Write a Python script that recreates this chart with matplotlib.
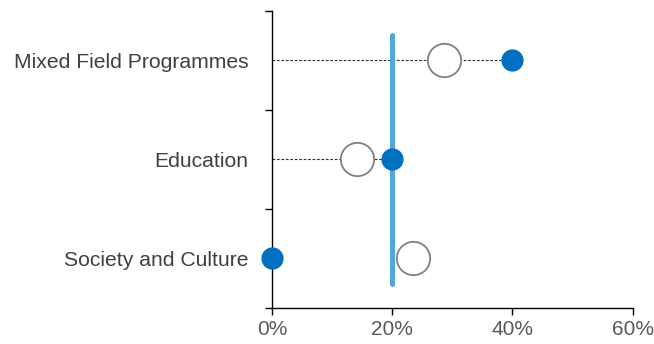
import numpy as np
import matplotlib.pyplot as plt
from matplotlib.ticker import FixedLocator, PercentFormatter

plt.rcParams["font.family"] = ["Liberation Sans", "DejaVu Sans"]

# data
categorias = ["Mixed Field Programmes", "Education", "Society and Culture"]
valor_atual = [40.0, 20.0, 0.0]        # blue dots (%)
valor_ref = [28.6, 14.1, 23.5]         # open circles (%)
media = 20.0                           # vertical line (%)

cor_ponto = "#0070C0"
cor_linha = "#4EA8DE"
cor_circulo = "#808080"

fig = plt.figure(figsize=(6.54, 3.44), dpi=100)
ax = fig.add_axes([0.4159, 0.1055, 0.5515, 0.8625])

y = np.arange(len(categorias))[::-1]

# dashed guide lines from axis to the dot
for yi, v in zip(y, valor_atual):
    if v > 0:
        ax.plot([0, v], [yi, yi], color="#333333", linestyle=(0, (2.5, 1.5)),
                linewidth=0.8, zorder=1)

# vertical reference line
ax.plot([media, media], [y.min() - 0.26, y.max() + 0.26], color=cor_linha,
        linewidth=3.6, solid_capstyle="round", zorder=2)

# open circles
ax.plot(valor_ref, y, linestyle="none", marker="o", markersize=24,
        markerfacecolor="white", markeredgecolor=cor_circulo,
        markeredgewidth=1.3, zorder=3)

# filled dots
ax.plot(valor_atual, y, linestyle="none", marker="o", markersize=15,
        markerfacecolor=cor_ponto, markeredgecolor=cor_ponto, zorder=4,
        clip_on=False)

ax.set_xlim(0, 60)
ax.set_ylim(-0.5, 2.5)
ax.set_xticks([0, 20, 40, 60])
ax.xaxis.set_major_formatter(PercentFormatter(decimals=0))
ax.set_yticks(y)
ax.set_yticklabels(categorias)
ax.yaxis.set_minor_locator(FixedLocator([-0.5, 0.5, 1.5, 2.5]))

ax.tick_params(axis="y", which="major", length=0, pad=17, labelsize=15.2,
               labelcolor="#404040")
ax.tick_params(axis="y", which="minor", length=5, width=1)
ax.tick_params(axis="x", length=5, width=1, labelsize=15,
               labelcolor="#595959", pad=4)

for lado in ["top", "right"]:
    ax.spines[lado].set_visible(False)
for lado in ["left", "bottom"]:
    ax.spines[lado].set_linewidth(1)

fig.savefig("out.png", dpi=100)
